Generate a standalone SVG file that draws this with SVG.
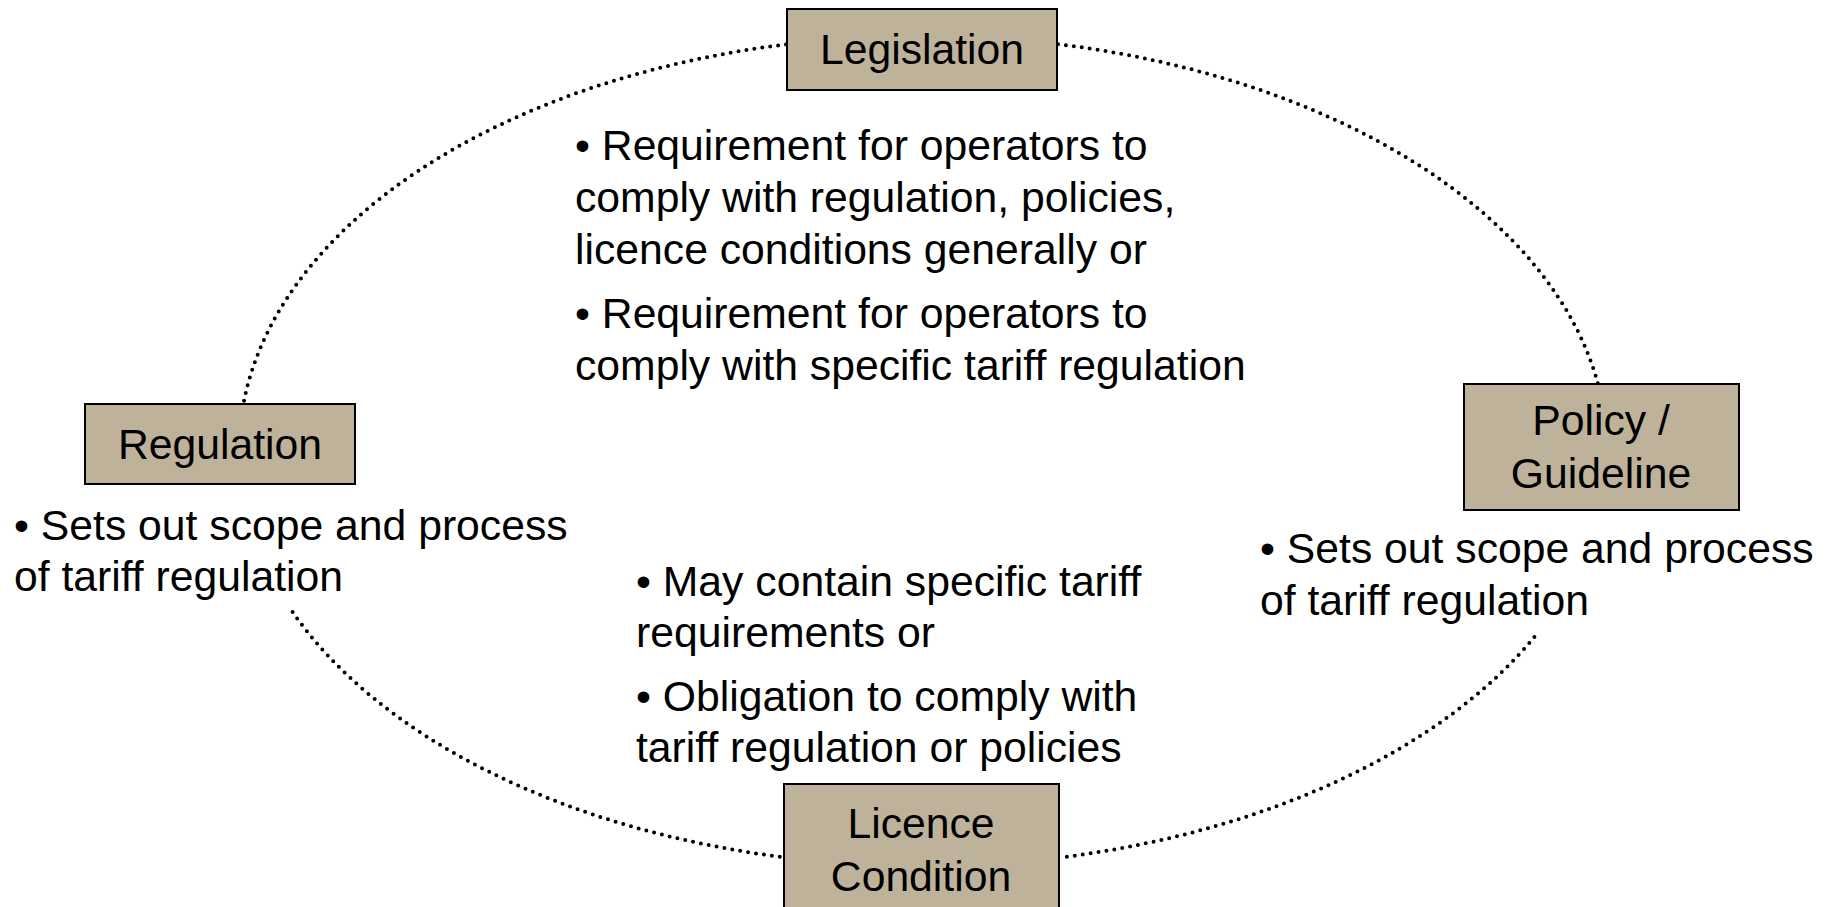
<svg xmlns="http://www.w3.org/2000/svg" width="1829" height="907" viewBox="0 0 1829 907">
<style>
  .box { fill: #BFB29B; stroke: #000; stroke-width: 2; }
  .lbl { font-family: "Liberation Sans", Arial, sans-serif; font-size: 42.7px; fill: #000; text-anchor: middle; }
  .txt { font-family: "Liberation Sans", Arial, sans-serif; font-size: 42.7px; fill: #000; }
  .dot { fill: none; stroke: #000; stroke-width: 4; stroke-dasharray: 0 8; stroke-linecap: round; }
</style>
<rect width="1829" height="907" fill="#fff"/>
<g id="connectors">
  <path class="dot" d="M786,44.4 A684,415 0 0,0 243.4,404"/>
  <path class="dot" d="M1058,44.2 A684,415 0 0,1 1598,384"/>
  <path class="dot" d="M1534.4,637 A684,415 0 0,1 1059,857.7"/>
  <path class="dot" d="M292.6,612 A684,415 0 0,0 784,857.3"/>
</g>
<g id="legislation">
  <rect class="box" x="787" y="9" width="270" height="81"/>
  <text class="lbl" x="922" y="64">Legislation</text>
</g>
<g id="regulation">
  <rect class="box" x="85" y="404" width="270" height="80"/>
  <text class="lbl" x="220" y="459">Regulation</text>
</g>
<g id="policy">
  <rect class="box" x="1464" y="384" width="275" height="126"/>
  <text class="lbl" x="1601" y="435">Policy /</text>
  <text class="lbl" x="1601" y="488">Guideline</text>
</g>
<g id="licence">
  <rect class="box" x="784" y="784" width="275" height="130"/>
  <text class="lbl" x="921" y="838">Licence</text>
  <text class="lbl" x="921" y="891">Condition</text>
</g>
<g id="legislation-notes">
  <text class="txt" x="575" y="160">• Requirement for operators to</text>
  <text class="txt" x="575" y="212">comply with regulation, policies,</text>
  <text class="txt" x="575" y="264">licence conditions generally or</text>
  <text class="txt" x="575" y="328">• Requirement for operators to</text>
  <text class="txt" x="575" y="380">comply with specific tariff regulation</text>
</g>
<g id="regulation-notes">
  <text class="txt" x="14" y="540">• Sets out scope and process</text>
  <text class="txt" x="14" y="591">of tariff regulation</text>
</g>
<g id="policy-notes">
  <text class="txt" x="1260" y="563">• Sets out scope and process</text>
  <text class="txt" x="1260" y="615">of tariff regulation</text>
</g>
<g id="licence-notes">
  <text class="txt" x="636" y="596">• May contain specific tariff</text>
  <text class="txt" x="636" y="647">requirements or</text>
  <text class="txt" x="636" y="711">• Obligation to comply with</text>
  <text class="txt" x="636" y="762">tariff regulation or policies</text>
</g>
</svg>
